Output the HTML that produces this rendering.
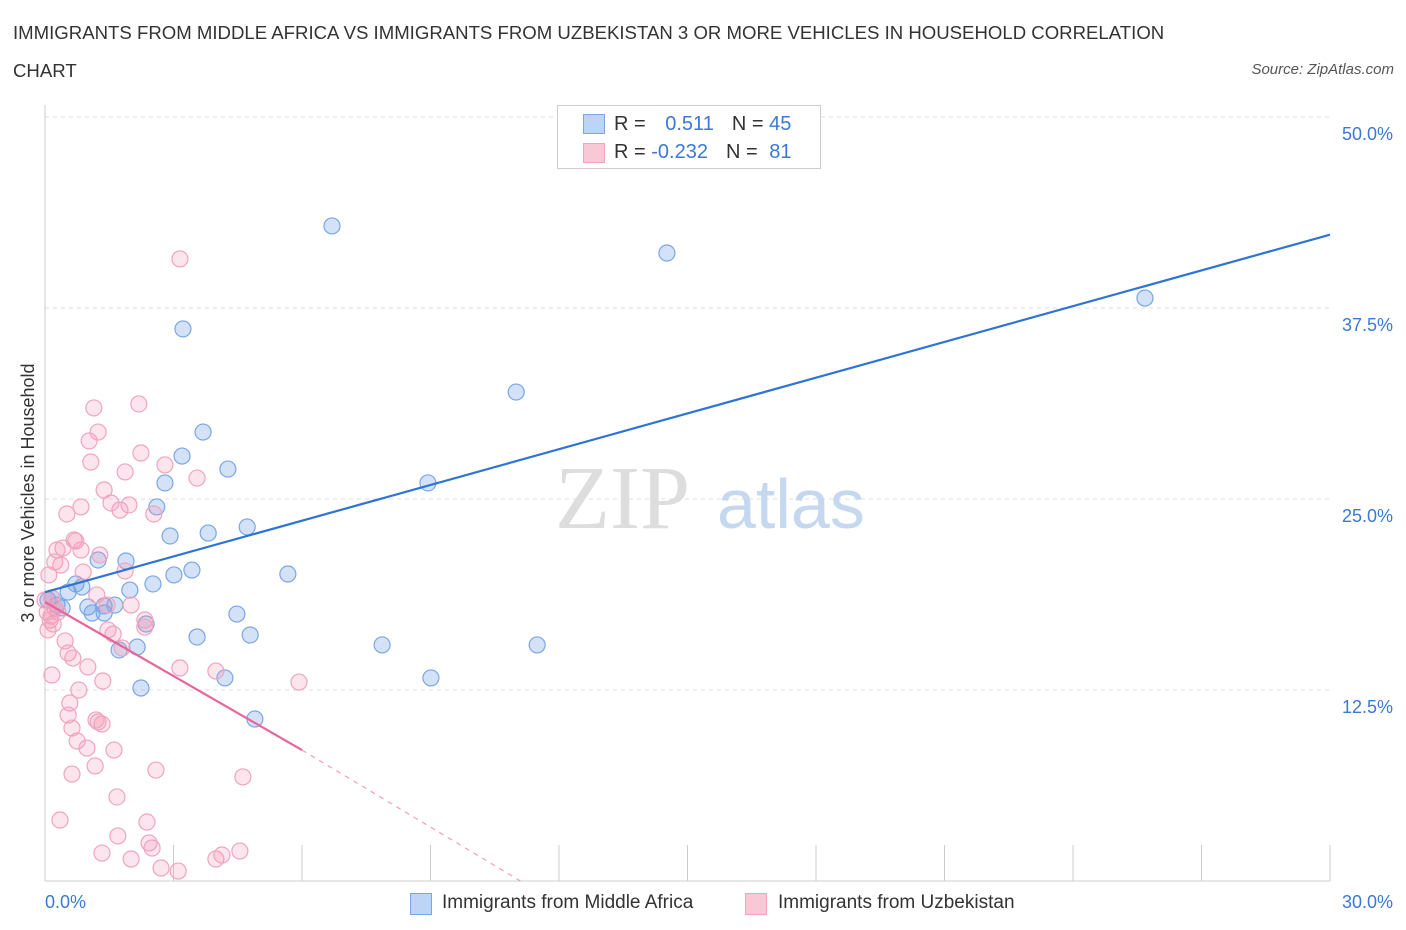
<!DOCTYPE html>
<html><head><meta charset="utf-8">
<style>
body{margin:0;background:#fff;font-family:"Liberation Sans",sans-serif;}
#wrap{position:relative;width:1406px;height:930px;overflow:hidden;}
.t{position:absolute;white-space:nowrap;}
</style></head><body>
<div id="wrap">
<div class="t" style="left:13px;top:14px;font-size:18.6px;color:#333;line-height:38px;">IMMIGRANTS FROM MIDDLE AFRICA VS IMMIGRANTS FROM UZBEKISTAN 3 OR MORE VEHICLES IN HOUSEHOLD CORRELATION<br>CHART</div>
<div class="t" style="right:12px;top:61px;font-size:15px;color:#555;font-style:italic;">Source: ZipAtlas.com</div>
<svg id="svg" width="1406" height="930" style="position:absolute;left:0;top:0"></svg>
</div>
<script>
const yTicks=[12.5,25,37.5,50];
const yTickLabels=["12.5%","25.0%","37.5%","50.0%"];
const blueX=[6.70,14.52,25.68,3.22,11.00,3.69,3.20,4.27,8.94,2.80,2.61,4.72,2.92,3.81,1.24,1.89,5.67,3.43,3.01,2.52,1.98,0.72,0.86,0.54,0.16,0.28,0.40,1.00,1.38,1.63,1.10,1.38,4.48,3.55,4.79,2.36,1.73,2.15,7.87,11.49,4.20,9.01,2.24,4.90,0.07];
const blueY=[42.87,41.10,38.15,36.13,32.00,29.38,27.81,26.96,26.05,26.05,24.48,23.17,22.58,22.77,21.01,20.94,20.09,20.35,20.03,19.44,19.04,19.44,19.24,18.91,18.52,18.06,17.87,17.93,18.0,18.06,17.54,17.54,17.47,15.97,16.10,16.82,15.12,15.31,15.45,15.45,13.29,13.29,12.63,10.60,18.39];
const pinkX=[3.15,2.19,1.14,1.24,1.03,2.24,2.80,1.07,1.87,3.55,1.38,1.54,1.96,1.75,2.54,0.51,0.84,0.68,0.72,0.42,0.28,0.84,0.23,0.37,0.09,0.89,1.87,0.16,0.23,0.30,0.14,0.19,1.21,1.45,2.01,2.33,2.33,1.59,1.47,1.80,0.47,0.54,0.65,3.15,3.99,5.93,1.00,1.35,0.16,0.79,0.58,0.54,1.24,1.33,1.19,0.63,0.75,0.98,1.61,1.17,0.63,2.59,4.62,1.68,0.35,1.70,2.38,2.43,2.50,1.33,2.01,2.71,3.11,3.99,4.13,4.55,0.0,0.05,0.12,0.07,1.28];
const pinkY=[40.71,31.22,30.96,29.38,28.80,28.01,27.23,27.42,26.77,26.37,25.59,24.74,24.61,24.28,24.02,24.02,24.48,22.32,22.25,21.79,21.66,21.66,20.88,20.68,20.03,20.22,20.29,18.52,17.87,17.60,17.34,16.82,18.72,18.06,18.06,17.08,16.62,16.16,16.43,15.25,15.71,14.92,14.59,13.94,13.74,13.02,14.01,13.09,13.48,12.50,11.65,10.86,10.41,10.27,10.54,10.01,9.16,8.70,8.57,7.53,7.00,7.26,6.81,5.50,3.99,2.95,3.86,2.49,2.16,1.83,1.44,0.85,0.65,1.44,1.70,1.96,18.39,17.60,17.08,16.43,21.34];
const blueLine=[[0,18.9],[30,42.3]];
const pinkLineSolid=[[0,18.26],[6,8.57]];
const pinkLineDash=[[6,8.57],[11.1,0]];

const X=v=>45+v*(1285/30);
const Y=v=>881-v*(764/50);
const svg=document.getElementById('svg');
const NS='http://www.w3.org/2000/svg';
function mk(tag,attrs){const e=document.createElementNS(NS,tag);for(const k in attrs)e.setAttribute(k,attrs[k]);svg.appendChild(e);return e;}

yTicks.forEach((t,i)=>{
  const g=mk('line',{x1:45,x2:1330,y1:Y(t),y2:Y(t),stroke:'#ddd','stroke-dasharray':'4,4'});
  
  
  const tx=mk('text',{x:1393,y:Y(t)+23,'text-anchor':'end','font-size':18,fill:'#3b78d8','font-family':'Liberation Sans'});
  tx.textContent=yTickLabels[i];
  
  
});
let ax=mk('line',{x1:45,x2:45,y1:105,y2:881,stroke:'#ccc'});


ax=mk('line',{x1:45,x2:1330,y1:881,y2:881,stroke:'#ccc'});


for(let i=0;i<=10;i++){
  const tk=mk('line',{x1:X(i*3),x2:X(i*3),y1:845,y2:881,stroke:'#ccc'});
  
  
}
let tl=mk('text',{x:45,y:908,'font-size':18,fill:'#3b78d8','font-family':'Liberation Sans'});tl.textContent='0.0%';


tl=mk('text',{x:1393,y:908,'text-anchor':'end','font-size':18,fill:'#3b78d8','font-family':'Liberation Sans'});tl.textContent='30.0%';


let yt=mk('text',{x:34,y:493,'text-anchor':'middle','font-size':18,fill:'#333',transform:'rotate(-90 34 493)','font-family':'Liberation Sans'});yt.textContent='3 or more Vehicles in Household';


let wm=mk('text',{x:555,y:528,'font-size':90,fill:'#ddd','font-family':'Liberation Serif'});wm.textContent='ZIP';


wm=mk('text',{x:717,y:528,'font-size':70,fill:'#c5d8f0','font-family':'Liberation Sans'});wm.textContent='atlas';



blueX.forEach((v,i)=>{
  const c=mk('circle',{cx:X(v),cy:Y(blueY[i]),r:8,fill:'rgba(110,160,230,0.3)',stroke:'#7aa6e6','stroke-width':1.2});
  
  
});
pinkX.forEach((v,i)=>{
  const c=mk('circle',{cx:X(v),cy:Y(pinkY[i]),r:8,fill:'rgba(245,150,180,0.25)',stroke:'#f0a4bd','stroke-width':1.2});
  
  
});
let l=mk('line',{x1:X(blueLine[0][0]),y1:Y(blueLine[0][1]),x2:X(blueLine[1][0]),y2:Y(blueLine[1][1]),stroke:'#2e74d6','stroke-width':2.2});


l=mk('line',{x1:X(pinkLineSolid[0][0]),y1:Y(pinkLineSolid[0][1]),x2:X(pinkLineSolid[1][0]),y2:Y(pinkLineSolid[1][1]),stroke:'#e8649a','stroke-width':2.2});


l=mk('line',{x1:X(pinkLineDash[0][0]),y1:Y(pinkLineDash[0][1]),x2:X(pinkLineDash[1][0]),y2:Y(pinkLineDash[1][1]),stroke:'#f0a0bc','stroke-width':1.2,'stroke-dasharray':'5,5'});


</script>
<div style="position:absolute;left:557px;top:105px;width:262px;height:62px;border:1px solid #ccc;background:#fff;font-size:20px;">
  <div style="position:absolute;left:25px;top:8px;width:20px;height:18px;background:#bcd4f5;border:1px solid #7aa6e6"></div>
  <div class="t" style="left:56px;top:7px;color:#333">R = <span style="color:#3b78d8;margin-left:14px">0.511</span><span style="margin-left:18px">N = </span><span style="color:#3b78d8">45</span></div>
  <div style="position:absolute;left:25px;top:37px;width:20px;height:18px;background:#f9c8d7;border:1px solid #f0a4bd"></div>
  <div class="t" style="left:56px;top:35px;color:#333">R = <span style="color:#3b78d8">-0.232</span><span style="margin-left:18px">N = </span><span style="color:#3b78d8;margin-left:6px">81</span></div>
</div>
<div style="position:absolute;left:0;top:890px;width:1406px;font-size:19px;color:#333;">
  <div style="position:absolute;left:410px;top:3px;width:20px;height:20px;background:#bcd4f5;border:1px solid #7aa6e6"></div>
  <div class="t" style="left:442px;top:2px">Immigrants from Middle Africa</div>
  <div style="position:absolute;left:745px;top:3px;width:20px;height:20px;background:#f9c8d7;border:1px solid #f0a4bd"></div>
  <div class="t" style="left:778px;top:2px">Immigrants from Uzbekistan</div>
</div>
</body></html>
